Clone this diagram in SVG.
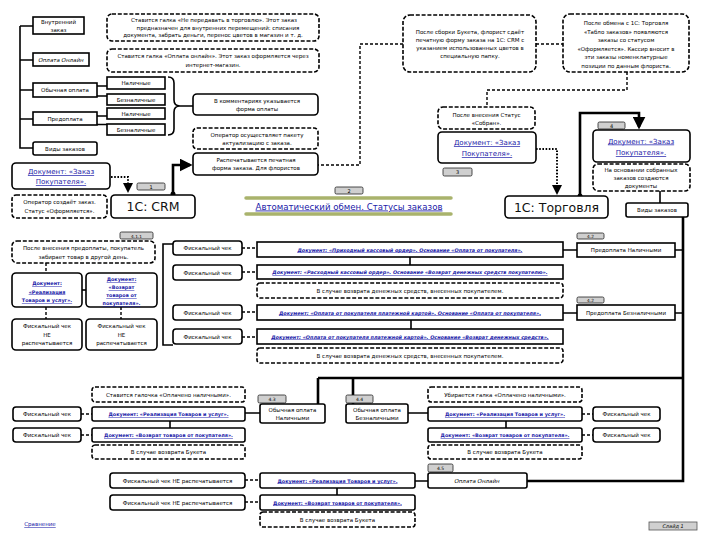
<svg xmlns="http://www.w3.org/2000/svg" width="720" height="540" viewBox="0 0 720 540">
<style>
.b{fill:#fff;stroke:#000;stroke-width:1.6}
.d{fill:#fff;stroke:#000;stroke-width:1.6;stroke-dasharray:4 1.8}
.tag{fill:#cfcfcf;stroke:#222;stroke-width:0.8}
.t{font-family:"DejaVu Sans",sans-serif;font-size:5.5px;fill:#000;text-anchor:middle}
.s{font-size:5px}
.i{font-style:italic}
.l{fill:#1a1aa8;text-decoration:underline}
.lb{fill:#1a1aa8;text-decoration:underline;font-weight:bold;font-size:4.9px}
.big{font-size:12.5px;fill:#111}
.c{fill:none;stroke:#000;stroke-width:1.6}
.ct{fill:none;stroke:#000;stroke-width:2.6}
.cd{fill:none;stroke:#000;stroke-width:1.4;stroke-dasharray:3 2}
.dot{fill:none;stroke:#000;stroke-width:2;stroke-dasharray:1.6 1.6}
.bar{stroke:#a9b36c;stroke-width:3.5;stroke-linecap:round}
</style>
<defs>
<marker id="ah" viewBox="0 0 10 10" refX="8" refY="5" markerWidth="5" markerHeight="5" orient="auto"><path d="M0,0L10,5L0,10z" fill="#000"/></marker>
</defs>
<rect width="720" height="540" fill="#fff"/>

<g id="connectors">
<path class="c" d="M20,26V148H33M20,26H33M20,60H33M20,90H33M20,119H33"/>
<path class="c" d="M97,86H107M97,96H107M97,116H107M97,124.5H107"/>
<path class="c" d="M168,77Q174,77 174,83V100Q174,106 180,106Q174,106 174,112V129Q174,135 168,135M180,106H193"/>
<path class="ct" d="M173,194V165H190" marker-end="url(#ah)"/>
<circle cx="173" cy="194" r="2.5"/>
<path class="dot" d="M111,177H128V191" marker-end="url(#ah)"/>
<path class="cd" d="M403,44H360V165H318"/>
<path class="cd" d="M536,44H563"/>
<path class="cd" d="M627,72V90H487V107"/>
<path class="dot" d="M536,149H557V193" marker-end="url(#ah)"/>
<path class="ct" d="M580,196V113H639V127" marker-end="url(#ah)"/>
<circle cx="580" cy="196" r="2.5"/>
<path class="c" d="M660,191V203"/>
<path class="ct" d="M683,217V481H527"/>
<path class="c" d="M675,250H683M675,313H683"/>
<path class="ct" d="M318,378H683M318,378V404M353,378V404"/>
<path class="c" d="M173,244H163V345H173"/>
<path class="cd" d="M242,248H257M242,272H257M242,312H257M242,337H257"/>
<path class="c" d="M563,250H577M563,313H577M410,257V265M411,320V329"/>
<path class="c" d="M82,290H86"/>
<path class="cd" d="M46,263V273M46,307V319M121,307V319"/>
<path class="cd" d="M81,414H92M81,435H92M582,414H593M582,435H593M245,480H260M245,502H260"/>
<path class="c" d="M170,421V428M506,421V428M245,413H260M408,413H428M428,481H415M337,488V495"/>
<line class="bar" x1="246" y1="198" x2="451" y2="198"/>
<line class="bar" x1="246" y1="214" x2="451" y2="214"/>
</g>

<g id="n-vnutr"><rect class="b" x="33" y="17" width="51" height="17"/><text class="t" x="58.5" y="24">Внутренний</text><text class="t" x="58.5" y="31.5">заказ</text></g>
<g id="n-vnutr-note"><rect class="d" x="107" y="14" width="212" height="27" rx="5"/><text class="t" x="214" y="22">Ставится галка «Не передавать в торговлю». Этот заказ</text><text class="t" x="218" y="29.5">предназначен для внутренних перемещений: списания</text><text class="t" x="213" y="37">документа, забрать деньги, перенос цветов в магазин и т. д.</text></g>
<g id="n-online"><rect class="b" x="33" y="53" width="56" height="13"/><text class="t i" x="61" y="61.5">Оплата Онлайн</text></g>
<g id="n-online-note"><rect class="d" x="107" y="49" width="212" height="23" rx="5"/><text class="t" x="213" y="58">Ставится галка «Оплата онлайн». Этот заказ оформляется через</text><text class="t" x="213" y="66.5">интернет-магазин.</text></g>
<g id="n-obych"><rect class="b" x="33" y="83" width="64" height="14"/><text class="t" x="65" y="92">Обычная оплата</text></g>
<g id="n-nal1"><rect class="b" x="107" y="77" width="58" height="12"/><text class="t" x="136" y="85">Наличные</text></g>
<g id="n-beznal1"><rect class="b" x="107" y="94" width="58" height="11"/><text class="t" x="136" y="101.5">Безналичные</text></g>
<g id="n-nal2"><rect class="b" x="107" y="108" width="58" height="11"/><text class="t" x="136" y="115.5">Наличные</text></g>
<g id="n-predopl"><rect class="b" x="33" y="112" width="64" height="13"/><text class="t" x="65" y="120.5">Предоплата</text></g>
<g id="n-beznal2"><rect class="b" x="107" y="124" width="58" height="11"/><text class="t" x="136" y="131.5">Безналичные</text></g>
<g id="n-vidy1"><rect class="b" x="33" y="142" width="64" height="13" rx="2"/><text class="t" x="65" y="150.5">Виды заказов</text></g>

<g id="n-comment"><rect class="b" x="193" y="94" width="125" height="21" rx="4"/><text class="t" x="257" y="102.5">В комментариях указывается</text><text class="t" x="257" y="110.5">форма оплаты</text></g>
<g id="n-oper-akt"><rect class="d" x="193" y="128" width="125" height="21" rx="4"/><text class="t" x="257" y="136.5">Оператор осуществляет пакету</text><text class="t" x="257" y="144.5">актуализацию с заказа.</text></g>
<g id="n-print"><rect class="b" x="193" y="153" width="125" height="22" rx="4"/><text class="t" x="256" y="162">Распечатывается печатная</text><text class="t" x="256" y="170">форма заказа. Для флористов</text></g>

<g id="n-doc-zakaz1"><rect class="b" x="12" y="163" width="98" height="26" rx="4"/><text class="t l" x="61" y="174" style="font-size:7px">Документ: «Заказ</text><text class="t l" x="61" y="184" style="font-size:7px">Покупателя».</text></g>
<g id="n-oper"><rect class="d" x="12" y="195" width="95" height="23" rx="4"/><text class="t" x="59.5" y="204">Оператор создаёт заказ.</text><text class="t" x="59.5" y="212.5">Статус «Оформляется».</text></g>
<g id="n-crm"><rect class="b" x="111" y="195" width="84" height="23" rx="4"/><text class="t big" x="153" y="211">1С: CRM</text></g>
<g id="tag1"><rect class="tag" x="137" y="183" width="28" height="7" rx="1.5"/><text class="t s" x="151" y="188.8">1</text></g>

<g id="n-auto"><rect class="tag" x="335" y="187" width="28" height="7" rx="1.5"/><text class="t s" x="349" y="192.8">2</text><text class="t l" x="349" y="209.5" style="font-size:8.6px">Автоматический обмен. Статусы заказов</text></g>

<g id="n-sborka"><rect class="d" x="403" y="15" width="133" height="57" rx="7"/><text class="t" x="470" y="34">После сборки Букета, флорист сдаёт</text><text class="t" x="470" y="42">печатную форму заказа на 1С: CRM с</text><text class="t" x="470" y="50">указанием использованных цветов в</text><text class="t" x="470" y="58">специальную папку.</text></g>
<g id="n-obmen"><rect class="d" x="563" y="14" width="126" height="58" rx="7"/><text class="t" x="626" y="25">После обмена с 1С: Торговля</text><text class="t" x="626" y="33.5">«Табло заказов» появляются</text><text class="t" x="626" y="42">заказы со статусом</text><text class="t" x="626" y="50.5">«Оформляется». Кассир вносит в</text><text class="t" x="626" y="59">эти заказы номенклатурные</text><text class="t" x="626" y="67.5">позиции по данным флориста.</text></g>
<g id="n-sobran"><rect class="d" x="438" y="107" width="97" height="22" rx="5"/><text class="t" x="486.5" y="116.5">После внесения Статус</text><text class="t" x="486.5" y="125">«Собран».</text></g>
<g id="n-doc-zakaz2"><rect class="b" x="438" y="132" width="98" height="31" rx="4"/><text class="t l" x="487" y="145" style="font-size:7px">Документ: «Заказ</text><text class="t l" x="487" y="156" style="font-size:7px">Покупателя».</text></g>
<g id="tag3"><rect class="tag" x="443" y="168" width="29" height="8" rx="1.5"/><text class="t s" x="457.5" y="174">3</text></g>
<g id="n-torg"><rect class="b" x="505" y="196" width="103" height="22" rx="4"/><text class="t big" x="556.5" y="212">1С: Торговля</text></g>
<g id="tag4"><rect class="tag" x="598" y="122" width="27" height="7" rx="1.5"/><text class="t s" x="611.5" y="127.8">4</text></g>
<g id="n-doc-zakaz3"><rect class="b" x="593" y="130" width="97" height="32" rx="4"/><text class="t l" x="641" y="143.5" style="font-size:7px">Документ: «Заказ</text><text class="t l" x="641" y="155" style="font-size:7px">Покупателя».</text></g>
<g id="n-osnov"><rect class="d" x="593" y="164" width="97" height="27" rx="5"/><text class="t" x="641" y="172">На основании собранных</text><text class="t" x="641" y="180">заказов создаются</text><text class="t" x="641" y="188">документы</text></g>
<g id="n-vidy2"><rect class="b" x="626" y="203" width="62" height="14" rx="2"/><text class="t" x="657" y="212">Виды заказов</text></g>
<g id="n-pred-nal"><rect class="tag" x="577" y="233" width="27" height="6" rx="1.5"/><text class="t" x="590.5" y="238" style="font-size:4.3px">4.2</text><rect class="b" x="577" y="243" width="98" height="14"/><text class="t" x="626" y="252">Предоплата Наличными</text></g>
<g id="n-pred-beznal"><rect class="tag" x="577" y="297" width="27" height="6" rx="1.5"/><text class="t" x="590.5" y="302" style="font-size:4.3px">4.2</text><rect class="b" x="577" y="305" width="98" height="15"/><text class="t" x="626" y="314.5">Предоплата Безналичными</text></g>

<g id="n-posle-pred"><rect class="tag" x="120" y="232" width="33" height="7" rx="1.5"/><text class="t" x="136.5" y="237.5" style="font-size:4.3px">4.1.1</text><rect class="d" x="12" y="241" width="143" height="22" rx="5"/><text class="t" x="83.5" y="250">После внесения предоплаты, покупатель</text><text class="t" x="83.5" y="258.5">забирает товар в другой день.</text></g>
<g id="n-fch1"><rect class="b" x="173" y="241" width="69" height="14" rx="3"/><text class="t" x="207.5" y="250">Фискальный чек</text></g>
<g id="n-fch2"><rect class="b" x="173" y="265" width="69" height="15" rx="3"/><text class="t" x="207.5" y="274.5">Фискальный чек</text></g>
<g id="n-fch3"><rect class="b" x="173" y="305" width="69" height="15" rx="3"/><text class="t" x="207.5" y="314.5">Фискальный чек</text></g>
<g id="n-fch4"><rect class="b" x="173" y="329" width="69" height="15" rx="3"/><text class="t" x="207.5" y="338.5">Фискальный чек</text></g>
<g id="n-pko"><rect class="b" x="257" y="242" width="306" height="15"/><text class="t lb i" x="410" y="251.5">Документ: «Приходный кассовый ордер». Основание «Оплата от покупателя».</text></g>
<g id="n-rko"><rect class="b" x="257" y="265" width="306" height="14"/><text class="t lb i" x="410" y="274">Документ: «Расходный кассовый ордер». Основание «Возврат денежных средств покупателю».</text></g>
<g id="n-vozv1"><rect class="d" x="257" y="283" width="306" height="15" rx="3"/><text class="t" x="410" y="292.5">В случае возврата денежных средств, внесенных покупателем.</text></g>
<g id="n-karta"><rect class="b" x="257" y="305" width="306" height="15"/><text class="t lb i" x="410" y="314.5">Документ: «Оплата от покупателя платежной картой». Основание «Оплата от покупателя».</text></g>
<g id="n-karta-vozv"><rect class="b" x="257" y="329" width="306" height="15"/><text class="t lb i" x="410" y="338.5">Документ: «Оплата от покупателя платежной картой». Основание «Возврат денежных средств».</text></g>
<g id="n-vozv2"><rect class="d" x="257" y="348" width="306" height="15" rx="3"/><text class="t" x="410" y="357.5">В случае возврата денежных средств, внесенных покупателем.</text></g>

<g id="n-real1"><rect class="b" x="12" y="273" width="70" height="34" rx="4"/><text class="t lb" x="47" y="285">Документ:</text><text class="t lb" x="47" y="293.5">«Реализация</text><text class="t lb" x="47" y="302">Товаров и услуг».</text></g>
<g id="n-vozvr1"><rect class="b" x="86" y="273" width="71" height="34" rx="4"/><text class="t lb" x="121.5" y="281">Документ:</text><text class="t lb" x="121.5" y="289">«Возврат</text><text class="t lb" x="121.5" y="297">товаров от</text><text class="t lb" x="121.5" y="305">покупателя».</text></g>
<g id="n-ne1"><rect class="b" x="12" y="319" width="70" height="31" rx="4"/><text class="t" x="47" y="328">Фискальный чек</text><text class="t" x="47" y="336.5">НЕ</text><text class="t" x="47" y="345">распечатывается</text></g>
<g id="n-ne2"><rect class="b" x="86" y="319" width="71" height="31" rx="4"/><text class="t" x="121.5" y="328">Фискальный чек</text><text class="t" x="121.5" y="336.5">НЕ</text><text class="t" x="121.5" y="345">распечатывается</text></g>

<g id="n-stav"><rect class="d" x="92" y="387" width="153" height="15" rx="3"/><text class="t" x="168.5" y="396.5">Ставится галочка «Оплачено наличными».</text></g>
<g id="n-fch5"><rect class="b" x="13" y="407" width="68" height="14" rx="3"/><text class="t" x="47" y="416">Фискальный чек</text></g>
<g id="n-real2"><rect class="b" x="92" y="407" width="153" height="14" rx="2"/><text class="t lb" x="168.5" y="416">Документ: «Реализация Товаров и услуг».</text></g>
<g id="n-fch6"><rect class="b" x="13" y="428" width="68" height="14" rx="3"/><text class="t" x="47" y="437">Фискальный чек</text></g>
<g id="n-vozvr2"><rect class="b" x="92" y="428" width="153" height="14" rx="2"/><text class="t lb" x="168.5" y="437">Документ: «Возврат товаров от покупателя».</text></g>
<g id="n-buk1"><rect class="d" x="92" y="445" width="153" height="14" rx="3"/><text class="t" x="168.5" y="454">В случае возврата Букета</text></g>

<g id="n-obych-nal"><rect class="tag" x="258" y="395" width="28" height="8" rx="1.5"/><text class="t" x="272" y="401" style="font-size:4.5px">4.3</text><rect class="b" x="260" y="404" width="65" height="19" rx="2"/><text class="t" x="292.5" y="411.5">Обычная оплата</text><text class="t" x="292.5" y="420">Наличными</text></g>
<g id="n-obych-beznal"><rect class="tag" x="346" y="395" width="27" height="8" rx="1.5"/><text class="t" x="359.5" y="401" style="font-size:4.5px">4.4</text><rect class="b" x="346" y="404" width="62" height="19" rx="2"/><text class="t" x="377" y="411.5">Обычная оплата</text><text class="t" x="377" y="420">Безналичными</text></g>

<g id="n-ubir"><rect class="d" x="428" y="387" width="154" height="15" rx="3"/><text class="t" x="505" y="396.5">Убирается галка «Оплачено наличными».</text></g>
<g id="n-real3"><rect class="b" x="428" y="407" width="154" height="14" rx="2"/><text class="t lb" x="505" y="416">Документ: «Реализация Товаров и услуг».</text></g>
<g id="n-fch7"><rect class="b" x="593" y="407" width="67" height="14" rx="3"/><text class="t" x="626.5" y="416">Фискальный чек</text></g>
<g id="n-vozvr3"><rect class="b" x="428" y="428" width="154" height="14" rx="2"/><text class="t lb" x="505" y="437">Документ: «Возврат товаров от покупателя».</text></g>
<g id="n-fch8"><rect class="b" x="593" y="428" width="67" height="14" rx="3"/><text class="t" x="626.5" y="437">Фискальный чек</text></g>
<g id="n-buk2"><rect class="d" x="428" y="445" width="154" height="14" rx="3"/><text class="t" x="505" y="454">В случае возврата Букета</text></g>

<g id="n-online2"><rect class="tag" x="428" y="464" width="25" height="8" rx="1.5"/><text class="t" x="440.5" y="470" style="font-size:4.5px">4.5</text><rect class="b" x="428" y="473" width="99" height="15" rx="2"/><text class="t i" x="477" y="482.5">Оплата Онлайн</text></g>
<g id="n-real4"><rect class="b" x="260" y="473" width="155" height="15" rx="2"/><text class="t lb" x="337.5" y="482.5">Документ: «Реализация Товаров и услуг».</text></g>
<g id="n-vozvr4"><rect class="b" x="260" y="495" width="155" height="15" rx="2"/><text class="t lb" x="337.5" y="504.5">Документ: «Возврат товаров от покупателя».</text></g>
<g id="n-buk3"><rect class="d" x="260" y="512" width="155" height="15" rx="3"/><text class="t" x="337.5" y="521.5">В случае возврата Букета</text></g>
<g id="n-ne3"><rect class="b" x="110" y="473" width="135" height="15" rx="3"/><text class="t" x="177.5" y="482.5">Фискальный чек НЕ распечатывается</text></g>
<g id="n-ne4"><rect class="b" x="110" y="495" width="135" height="15" rx="3"/><text class="t" x="177.5" y="504.5">Фискальный чек НЕ распечатывается</text></g>

<g id="n-sravn"><text class="t l" x="40" y="526" style="font-size:5.5px">Сравнение</text></g>
<g id="n-slide"><rect x="649" y="522" width="48" height="8" fill="#d0d0d0" stroke="#555" stroke-width="0.8"/><text class="t i" x="673" y="528.3" style="font-size:5px">Слайд 1</text></g>
</svg>
